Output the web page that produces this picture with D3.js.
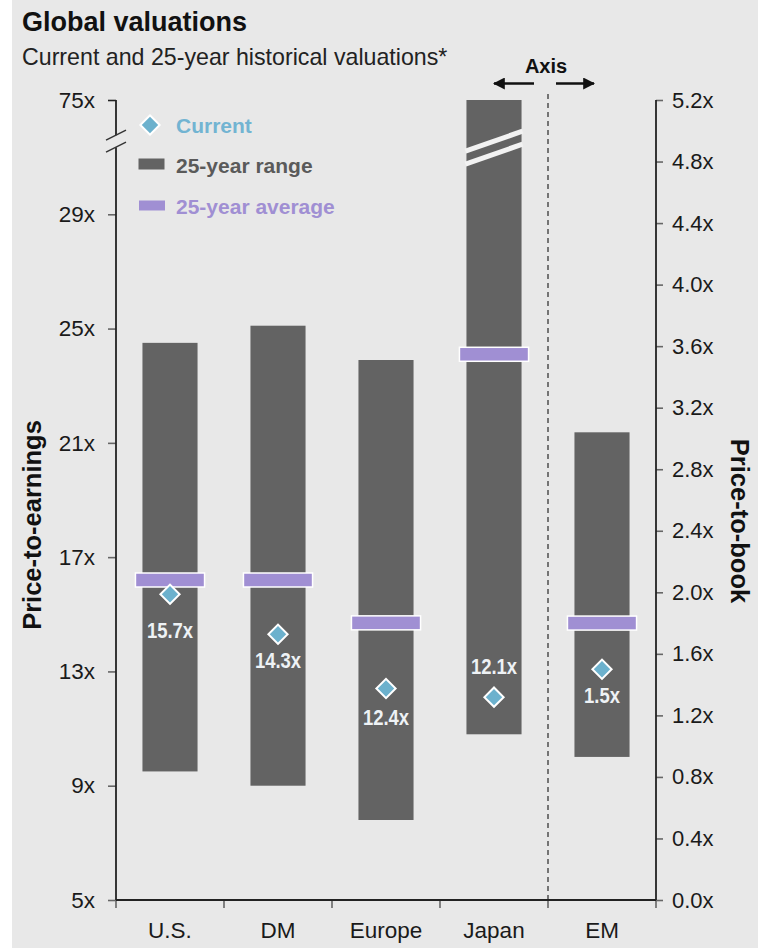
<!DOCTYPE html>
<html>
<head>
<meta charset="utf-8">
<script src="https://cdn.jsdelivr.net/npm/d3@7"></script>
<style>
  html, body { margin: 0; padding: 0; background: #ffffff; }
  svg { display: block; }
  text { font-family: "Liberation Sans", Arial, sans-serif; }
</style>
</head>
<body>
<svg id="chart" width="758" height="948"></svg>
<script>
// Regions and the axis each one is read against (P/E on the left, P/B on the right)
const categories = ["U.S.", "DM", "Europe", "Japan", "EM"];
const valueAxis = ["pe", "pe", "pe", "pe", "pb"];
// 25-year range, low and high
const rangeLow = [9.5, 9.0, 7.8, 10.8, 0.93];
const rangeHigh = [24.5, 25.1, 23.9, 75, 3.04];
// 25-year average
const average = [16.2, 16.2, 14.7, 24.1, 1.8];
// Current valuation
const current = [15.7, 14.3, 12.4, 12.1, 1.5];
const currentLabels = ["15.7x", "14.3x", "12.4x", "12.1x", "1.5x"];
// Axis ticks
const peTicks = [5, 9, 13, 17, 21, 25, 29, 75];
const pbTicks = [0, 0.4, 0.8, 1.2, 1.6, 2.0, 2.4, 2.8, 3.2, 3.6, 4.0, 4.4, 4.8, 5.2];
const legendItems = ["Current", "25-year range", "25-year average"];

const W = 758, H = 948;
const plot = { left: 116, right: 656, top: 100, bottom: 900 };

const colors = {
  bg: "#e8e8e8",
  bar: "#636363",
  avg: "#a08fd3",
  current: "#6cb1cd",
  currentText: "#72b4d2",
  rangeText: "#5a5a5a",
  axis: "#222222",
  tick: "#666666",
  text: "#1a1a1a",
  label: "#eef2f5"
};

const svg = d3.select("#chart");

// page background with a narrow white margin on the left
svg.append("rect").attr("x", 0).attr("y", 0).attr("width", W).attr("height", H).attr("fill", "#ffffff");
svg.append("rect").attr("x", 12).attr("y", 0).attr("width", W - 12).attr("height", H).attr("fill", colors.bg);

// P/E scale has a break between 29x and 75x: one extra tick step above 29x
const peStep = (plot.bottom - plot.top) / 7;
const yPE = d3.scaleLinear()
  .domain([5, 29, 75])
  .range([plot.bottom, plot.bottom - 6 * peStep, plot.top]);
const yPB = d3.scaleLinear().domain([0, 5.2]).range([plot.bottom, plot.top]);
const x = d3.scaleBand().domain(categories).range([plot.left, plot.right]).padding(0);

const yFor = i => valueAxis[i] === "pe" ? yPE : yPB;
const barW = x.bandwidth() * 0.51;
const avgW = x.bandwidth() * 0.64;
const breakY = (yPE(29) + yPE(75)) / 2 - 16;

// Title block
svg.append("text").attr("x", 22).attr("y", 31)
  .attr("font-size", 27).attr("font-weight", "bold").attr("fill", "#111")
  .text("Global valuations");
svg.append("text").attr("x", 22).attr("y", 65)
  .attr("font-size", 23.2).attr("fill", "#222")
  .text("Current and 25-year historical valuations*");

// Range bars
const g = svg.append("g");
categories.forEach((c, i) => {
  const ys = yFor(i);
  g.append("rect")
    .attr("x", x(c) + (x.bandwidth() - barW) / 2)
    .attr("y", ys(rangeHigh[i]))
    .attr("width", barW)
    .attr("height", ys(rangeLow[i]) - ys(rangeHigh[i]))
    .attr("fill", colors.bar);
});

// Break marks across the Japan bar (its high runs off the scale)
{
  const jx0 = x("Japan") + (x.bandwidth() - barW) / 2;
  const jx1 = jx0 + barW;
  const slope = 20; // vertical drop across the bar width
  [-3, 10].forEach(off => {
    g.append("line")
      .attr("x1", jx0 - 1).attr("y1", breakY + off + slope / 2 + 3)
      .attr("x2", jx1 + 1).attr("y2", breakY + off - slope / 2 + 3)
      .attr("stroke", "#f2f2f2").attr("stroke-width", 5);
  });
}

// Divider between the P/E and P/B regions
const divX = x("EM");
svg.append("line")
  .attr("x1", divX).attr("x2", divX)
  .attr("y1", 94).attr("y2", plot.bottom)
  .attr("stroke", "#444").attr("stroke-width", 1.4)
  .attr("stroke-dasharray", "5,4");

// "Axis" marker with arrows
svg.append("text").attr("x", divX - 2).attr("y", 73)
  .attr("text-anchor", "middle").attr("font-size", 20).attr("font-weight", "bold").attr("fill", "#111")
  .text("Axis");
const defs = svg.append("defs");
defs.append("marker").attr("id", "arrow")
  .attr("viewBox", "0 0 10 10").attr("refX", 9).attr("refY", 5)
  .attr("markerWidth", 5).attr("markerHeight", 5).attr("markerUnits", "strokeWidth")
  .attr("orient", "auto")
  .append("path").attr("d", "M0,0 L10,5 L0,10 Z").attr("fill", "#111");
svg.append("line").attr("x1", divX - 14).attr("x2", divX - 54).attr("y1", 83.5).attr("y2", 83.5)
  .attr("stroke", "#111").attr("stroke-width", 2.4).attr("marker-end", "url(#arrow)");
svg.append("line").attr("x1", divX + 8).attr("x2", divX + 46).attr("y1", 83.5).attr("y2", 83.5)
  .attr("stroke", "#111").attr("stroke-width", 2.4).attr("marker-end", "url(#arrow)");

// Average markers
categories.forEach((c, i) => {
  const ys = yFor(i);
  g.append("rect")
    .attr("x", x(c) + (x.bandwidth() - avgW) / 2)
    .attr("y", ys(average[i]) - 7)
    .attr("width", avgW).attr("height", 14)
    .attr("fill", colors.avg)
    .attr("stroke", "#ffffff").attr("stroke-width", 1.5);
});

// Current diamonds and their labels (condensed bold figures)
const diamond = d3.symbol().type(d3.symbolSquare).size(185);
const labelDy = { "U.S.": 44, "DM": 34, "Europe": 36, "Japan": -23, "EM": 34 };
categories.forEach((c, i) => {
  const ys = yFor(i);
  const cx = x(c) + x.bandwidth() / 2;
  const cy = ys(current[i]);
  g.append("path")
    .attr("d", diamond())
    .attr("transform", `translate(${cx},${cy}) rotate(45)`)
    .attr("fill", colors.current)
    .attr("stroke", "#ffffff").attr("stroke-width", 2);
  g.append("text")
    .attr("transform", `translate(${cx},${cy + labelDy[c]}) scale(0.84,1)`)
    .attr("text-anchor", "middle")
    .attr("font-weight", "bold").attr("font-size", 22)
    .attr("fill", colors.label)
    .text(currentLabels[i]);
});

// Left axis (P/E) with a break near the top
const leftAxis = svg.append("g").attr("transform", `translate(${plot.left},0)`)
  .call(d3.axisLeft(yPE).tickValues(peTicks).tickSize(8).tickPadding(13).tickFormat(d => d + "x"));
leftAxis.select(".domain").remove();
leftAxis.selectAll(".tick line").attr("stroke", colors.tick).attr("stroke-width", 1.6);
leftAxis.selectAll(".tick text").attr("font-size", 22.5).attr("fill", colors.text)
  .attr("font-family", "'Liberation Sans', Arial, sans-serif");
leftAxis.selectAll(".tick").filter(d => d === 75).select("line").attr("stroke", colors.axis);
svg.append("line").attr("x1", plot.left).attr("x2", plot.left)
  .attr("y1", plot.top).attr("y2", breakY - 6)
  .attr("stroke", colors.axis).attr("stroke-width", 1.8);
svg.append("line").attr("x1", plot.left).attr("x2", plot.left)
  .attr("y1", breakY + 6).attr("y2", plot.bottom)
  .attr("stroke", colors.axis).attr("stroke-width", 1.8);
[-6, 6].forEach(off => {
  svg.append("line")
    .attr("x1", plot.left - 10).attr("y1", breakY + off + 5)
    .attr("x2", plot.left + 10).attr("y2", breakY + off - 5)
    .attr("stroke", "#333").attr("stroke-width", 1.4);
});

// Right axis (P/B)
const rightAxis = svg.append("g").attr("transform", `translate(${plot.right},0)`)
  .call(d3.axisRight(yPB).tickValues(pbTicks).tickSize(7).tickPadding(9).tickFormat(d => d3.format(".1f")(d) + "x"));
rightAxis.select(".domain").remove();
rightAxis.selectAll(".tick line").attr("stroke", colors.tick).attr("stroke-width", 1.6);
rightAxis.selectAll(".tick text").attr("font-size", 22).attr("fill", colors.text)
  .attr("font-family", "'Liberation Sans', Arial, sans-serif");
svg.append("line").attr("x1", plot.right).attr("x2", plot.right)
  .attr("y1", plot.top).attr("y2", plot.bottom)
  .attr("stroke", colors.axis).attr("stroke-width", 1.8);

// Bottom axis: ticks on band boundaries, labels at band centres
const bottom = svg.append("g").attr("transform", `translate(0,${plot.bottom})`);
const bounds = categories.map(c => x(c)).concat([plot.right]);
bottom.selectAll("line.bt").data(bounds).join("line").attr("class", "bt")
  .attr("x1", d => d).attr("x2", d => d).attr("y1", 0).attr("y2", 8)
  .attr("stroke", colors.tick).attr("stroke-width", 1.6);
bottom.append("line").attr("x1", plot.left).attr("x2", plot.right).attr("y1", 0).attr("y2", 0)
  .attr("stroke", colors.axis).attr("stroke-width", 1.8);
bottom.selectAll("text").data(categories).join("text")
  .attr("x", d => x(d) + x.bandwidth() / 2).attr("y", 38)
  .attr("text-anchor", "middle").attr("font-size", 22.5).attr("fill", colors.text)
  .text(d => d);

// Axis titles
svg.append("text")
  .attr("transform", `translate(41,${(plot.top + plot.bottom) / 2 + 25}) rotate(-90)`)
  .attr("text-anchor", "middle").attr("font-size", 25.5).attr("font-weight", "bold").attr("fill", "#111")
  .text("Price-to-earnings");
svg.append("text")
  .attr("transform", `translate(731,${(plot.top + plot.bottom) / 2 + 21}) rotate(90)`)
  .attr("text-anchor", "middle").attr("font-size", 25.5).attr("font-weight", "bold").attr("fill", "#111")
  .text("Price-to-book");

// Legend
const lg = svg.append("g");
lg.append("path").attr("d", d3.symbol().type(d3.symbolSquare).size(185)())
  .attr("transform", "translate(150,125) rotate(45)")
  .attr("fill", colors.current).attr("stroke", "#fff").attr("stroke-width", 2);
lg.append("rect").attr("x", 138.5).attr("y", 158.5).attr("width", 26).attr("height", 11).attr("fill", colors.bar);
lg.append("rect").attr("x", 139).attr("y", 200.5).attr("width", 26).attr("height", 10).attr("fill", colors.avg);
const legendColors = [colors.currentText, colors.rangeText, colors.avg];
const legendY = [133, 172.5, 213.5];
legendItems.forEach((t, i) => {
  lg.append("text").attr("x", 176).attr("y", legendY[i])
    .attr("font-size", 21).attr("font-weight", "bold").attr("fill", legendColors[i])
    .text(t);
});
</script>
</body>
</html>
